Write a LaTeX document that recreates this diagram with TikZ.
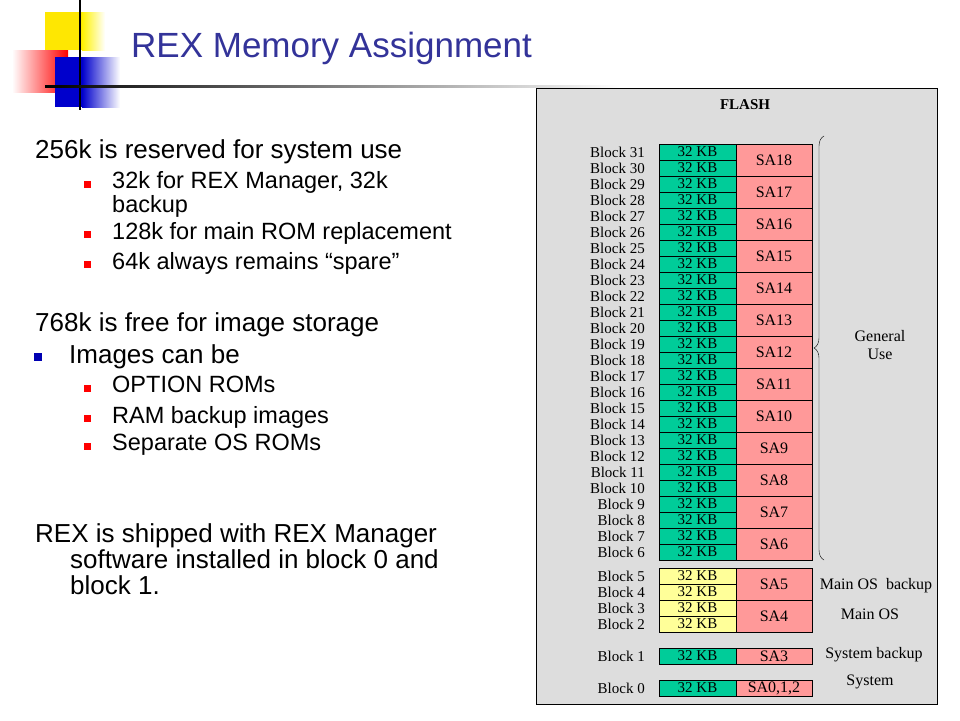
\documentclass[tikz,border=0pt]{standalone}
\usepackage{fontspec}
\setmainfont{Liberation Sans}
\newfontfamily\flashfont{Liberation Serif}
\usetikzlibrary{positioning,decorations.pathreplacing}
\definecolor{titleblue}{RGB}{51,51,153}
\definecolor{kbgreen}{RGB}{0,204,153}
\definecolor{sapink}{RGB}{255,153,153}
\definecolor{kbyellow}{RGB}{255,255,153}
\definecolor{panelgray}{RGB}{221,221,221}
\begin{document}
\begin{tikzpicture}[x=1pt,y=-1pt,
        kbcell/.style = {draw, fill=kbgreen, minimum width=77pt, minimum height=16pt,
            inner sep=0pt, text height=9pt, text depth=0pt, font=\flashfont\fontsize{15}{15}\selectfont},
        sacell/.style = {draw, fill=sapink, minimum width=76pt, inner sep=0pt,
            font=\flashfont\fontsize{16}{16}\selectfont},
        blocklabel/.style = {anchor=east, inner sep=0pt, font=\flashfont\fontsize{15}{15}\selectfont},
        sidelabel/.style = {inner sep=0pt, font=\flashfont\fontsize{16}{16}\selectfont},
        headtext/.style = {anchor=west, inner sep=0pt, font=\fontsize{26}{28}\selectfont},
        subtext/.style = {anchor=north west, inner sep=0pt, align=left, font=\fontsize{23.5}{24}\selectfont},
        bullet/.style = {fill=red, minimum size=7pt, inner sep=0pt}]
    \useasboundingbox (0,0) rectangle (960,720);

    % logo
    \fill[yellow!90!orange] (45,12) rectangle (82,50);
    \shade[left color=yellow!90!orange, right color=white] (82,12) rectangle (105,50);
    \shade[left color=white, right color=red] (12,50) rectangle (68,92);
    \fill[blue!80!black] (55,57) rectangle (82,107);
    \shade[left color=blue!80!black, right color=white] (82,57) rectangle (120,107);
    \draw[line width=1.2pt] (80,0) -- (80,110);
    \shade[left color=black, right color=white] (45,85) rectangle (620,87.5);

    \node[anchor=west, inner sep=0pt, text=titleblue, font=\fontsize{35}{35}\selectfont] (title) at (131,48) {REX Memory Assignment};

    % left text
    \node[headtext] (t1) at (35,152) {256k is reserved for system use};
    \node[bullet] (b1) at (87,184) {};
    \node[subtext] (s1) at (112,171) {32k for REX Manager, 32k\\backup};
    \node[bullet] (b2) at (87,234) {};
    \node[subtext] (s2) at (112,222) {128k for main ROM replacement};
    \node[bullet] (b3) at (87,264) {};
    \node[subtext] (s3) at (112,252) {64k always remains “spare”};
    \node[headtext] (t2) at (35,325) {768k is free for image storage};
    \node[fill=blue!70!black, minimum size=8pt, inner sep=0pt] (b4) at (38,357) {};
    \node[headtext] (t3) at (69,357) {Images can be};
    \node[bullet] (b5) at (87,388) {};
    \node[subtext] (s5) at (112,376) {OPTION ROMs};
    \node[bullet] (b6) at (87,418) {};
    \node[subtext] (s6) at (112,406) {RAM backup images};
    \node[bullet] (b7) at (87,446) {};
    \node[subtext] (s7) at (112,434) {Separate OS ROMs};
    \node[anchor=north west, inner sep=0pt, align=left, font=\fontsize{26}{26}\selectfont] (t4) at (35,523)
        {REX is shipped with REX Manager\\\hspace*{35pt}software installed in block 0 and\\\hspace*{35pt}block 1.};

    % flash panel
    \draw[fill=panelgray] (536,88) rectangle (937,704);
    \node[sidelabel, font=\flashfont\bfseries\fontsize{15}{15}\selectfont] (flash) at (745,105) {FLASH};
    \foreach \n in {6,...,31} {
        \node[kbcell] (kb\n) at (697.5,{152+(31-\n)*16}) {32 KB};
        \node[blocklabel] (bl\n) at (645,{152+(31-\n)*16}) {Block \n};
    }
    \foreach \s in {6,...,18} {
        \pgfmathtruncatemacro{\top}{2*\s-5}
        \node[sacell, minimum height=32pt] (sa\s) at (774,{152+(31-\top)*16+8}) {SA\s};
    }
    \foreach \n in {2,...,5} {
        \node[kbcell, fill=kbyellow] (kb\n) at (697.5,{576+(5-\n)*16}) {32 KB};
        \node[blocklabel] (bl\n) at (645,{576+(5-\n)*16}) {Block \n};
    }
    \node[sacell, minimum height=32pt] (sa5) at (774,584) {SA5};
    \node[sacell, minimum height=32pt] (sa4) at (774,616) {SA4};
    \node[kbcell] (kb1) at (697.5,656) {32 KB};
    \node[blocklabel] (bl1) at (645,656) {Block 1};
    \node[sacell, minimum height=16pt] (sa3) at (774,656) {SA3};
    \node[kbcell] (kb0) at (697.5,688) {32 KB};
    \node[blocklabel] (bl0) at (645,688) {Block 0};
    \node[sacell, minimum height=16pt] (sa0) at (774,688) {SA0,1,2};

    \draw[decorate, decoration={brace, mirror, amplitude=10pt}] (824,136) -- (824,560);
    \node[sidelabel, align=center] (gen) at (880,345) {General\\[2pt]Use};
    \node[sidelabel] (mob) at (876,586) {Main OS\ \ backup};
    \node[sidelabel] (mos) at (870,614) {Main OS};
    \node[sidelabel] (sysb) at (874,655) {System backup};
    \node[sidelabel] (sys) at (870,682) {System};
\end{tikzpicture}
\end{document}
